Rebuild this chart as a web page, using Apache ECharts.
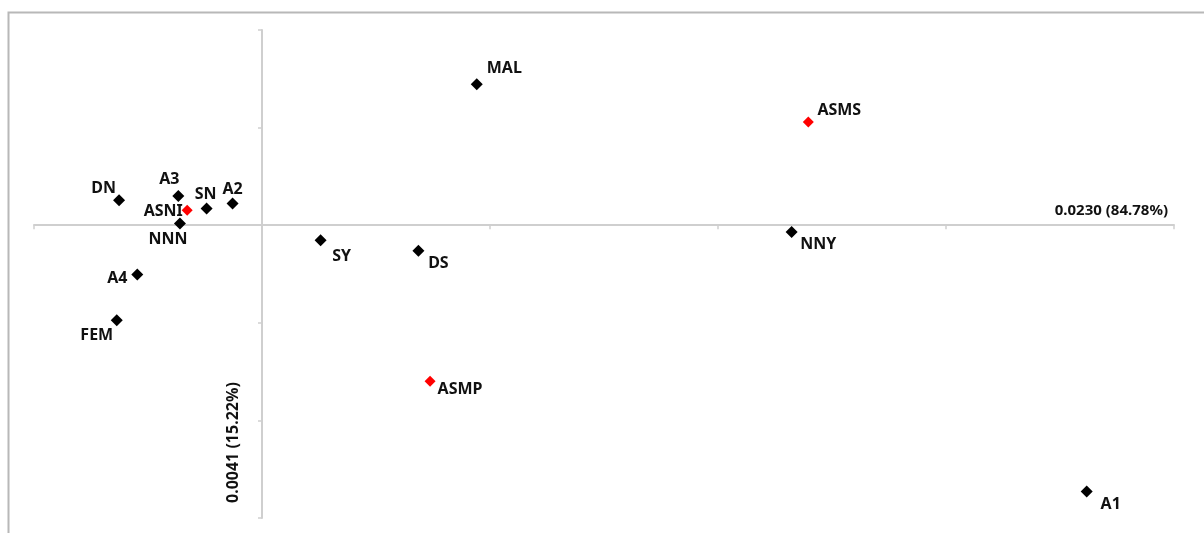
<!DOCTYPE html>
<html>
<head>
<meta charset="utf-8">
<script src="https://cdn.jsdelivr.net/npm/echarts@6/dist/echarts.min.js"></script>
<style>
  html, body { margin: 0; padding: 0; background: #ffffff; }
  #chart { width: 1204px; height: 533px; }
</style>
</head>
<body>
<div id="chart"></div>
<script>
// ---- data ----
const names = ['DN', 'A3', 'ASNI', 'SN', 'A2', 'NNN', 'SY', 'MAL', 'ASMS', 'NNY', 'DS', 'A4', 'FEM', 'ASMP', 'A1'];
const pc1   = [-0.0627, -0.0367, -0.0328, -0.0243, -0.0129, -0.0360, 0.0257, 0.0942, 0.2396, 0.2323, 0.0686, -0.0547, -0.0637, 0.0737, 0.3617];
const pc2   = [0.0256, 0.0300, 0.0154, 0.0171, 0.0222, 0.0017, -0.0154, 0.1445, 0.1058, -0.0069, -0.0263, -0.0505, -0.0973, -0.1598, -0.2729];
const highlighted = ['ASNI', 'ASMS', 'ASMP'];
const xAxisName = '0.0230 (84.78%)';
const yAxisName = '0.0041 (15.22%)';

// ---- label placement (style only) ----
const labelOffsets = {
  DN: [-15.5, -12], A3: [-9, -16], ASNI: [-24, 1.5], SN: [-1, -14], A2: [0, -14],
  NNN: [-12, 15.5], SY: [21, 16.5], MAL: [27.5, -15.5], ASMS: [31, -11.5],
  NNY: [26.6, 12.6], DS: [20, 12.5], A4: [-20, 4], FEM: [-20, 15], ASMP: [30, 8], A1: [24, 12.7]
};

function buildItems(isRed) {
  const out = [];
  names.forEach((n, i) => {
    if ((highlighted.indexOf(n) >= 0) !== isRed) return;
    out.push({
      name: n,
      value: [pc1[i], pc2[i]],
      label: { offset: labelOffsets[n] }
    });
  });
  return out;
}

const labelStyle = {
  show: true,
  position: 'inside',
  formatter: '{b}',
  color: '#111111',
  fontFamily: 'Noto Sans',
  fontWeight: 'bold',
  fontSize: 16,
  align: 'center',
  verticalAlign: 'middle'
};

const axisGray = '#cfcfcf';
const chart = echarts.init(document.getElementById('chart'), null, { renderer: 'canvas' });
chart.setOption({
  animation: false,
  backgroundColor: '#ffffff',
  graphic: [{
    type: 'rect', left: 6, top: 10, z: -10, silent: true,
    shape: { width: 1300, height: 600 },
    style: { fill: 'none', stroke: '#b8b8b8', lineWidth: 2 }
  }],
  grid: { left: 34, right: 30, top: 30, bottom: 15, containLabel: false },
  xAxis: {
    type: 'value', min: -0.1, max: 0.4, interval: 0.1,
    name: xAxisName, nameLocation: 'end', nameGap: -6,
    nameTextStyle: { fontFamily: 'Noto Sans', fontWeight: 'bold', fontSize: 15, color: '#111111',
                     align: 'right', verticalAlign: 'bottom', padding: [0, 0, 7, 0] },
    axisLine: { onZero: true, lineStyle: { color: axisGray, width: 2 } },
    axisTick: { show: true, length: 4, lineStyle: { color: axisGray, width: 1.5 } },
    axisLabel: { show: false },
    splitLine: { show: false }
  },
  yAxis: {
    type: 'value', min: -0.3, max: 0.2, interval: 0.1,
    name: yAxisName, nameLocation: 'start', nameGap: -15, nameRotate: 90,
    nameTextStyle: { fontFamily: 'Noto Sans', fontWeight: 'bold', fontSize: 16, color: '#111111',
                     align: 'left', verticalAlign: 'bottom', padding: [0, 0, 21, 0] },
    axisLine: { onZero: true, lineStyle: { color: axisGray, width: 2 } },
    axisTick: { show: true, length: 4, lineStyle: { color: axisGray, width: 1.5 } },
    axisLabel: { show: false },
    splitLine: { show: false }
  },
  series: [
    {
      type: 'scatter', name: 'samples', symbol: 'diamond', symbolSize: 12,
      itemStyle: { color: '#000000', opacity: 1 },
      label: labelStyle,
      data: buildItems(false)
    },
    {
      type: 'scatter', name: 'highlighted', symbol: 'diamond', symbolSize: 11,
      itemStyle: { color: '#ff0000', opacity: 1 },
      label: labelStyle,
      data: buildItems(true)
    }
  ]
});
</script>
</body>
</html>
